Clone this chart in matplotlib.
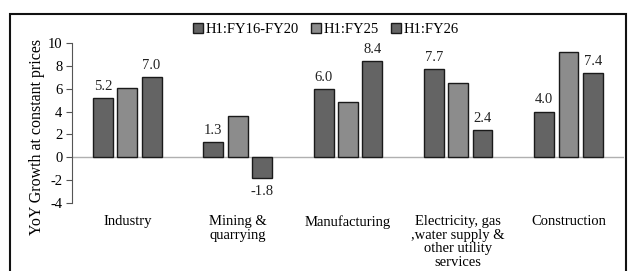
import matplotlib
matplotlib.use("Agg")
import matplotlib.pyplot as plt
import numpy as np
from matplotlib.patches import Rectangle

categories = ["Industry", "Mining &\nquarrying", "Manufacturing",
              "Electricity, gas\n,water supply &\nother utility\nservices", "Construction"]
series_names = ["H1:FY16-FY20", "H1:FY25", "H1:FY26"]
fy16_20 = [5.2, 1.3, 6.0, 7.7, 4.0]
fy25 = [6.1, 3.6, 4.8, 6.5, 9.2]
fy26 = [7.0, -1.8, 8.4, 2.4, 7.4]
yticks = [-4, -2, 0, 2, 4, 6, 8, 10]

colors = ["#646464", "#8c8c8c", "#646464"]
serif = ["Liberation Serif", "DejaVu Serif"]
fs = 10.5

fig = plt.figure(figsize=(6.28, 2.71), dpi=100)
ax = fig.add_axes([0.115, 0.251, 0.878, 0.590])

x = np.arange(len(categories))
w = 0.18
offs = [-0.22, 0.0, 0.22]
data = [fy16_20, fy25, fy26]
for i, (vals, name) in enumerate(zip(data, series_names)):
    ax.bar(x + offs[i], vals, w, color=colors[i], edgecolor="#1a1a1a",
           linewidth=1.0, label=name, zorder=3)
    if i in (0, 2):
        for xi, v in zip(x + offs[i], vals):
            if v >= 0:
                ax.text(xi, v + 0.45, f"{v:.1f}", ha="center", va="bottom",
                        fontsize=fs, family=serif, color="#222222")
            else:
                ax.text(xi, v - 0.6, f"{v:.1f}", ha="center", va="top",
                        fontsize=fs, family=serif, color="#222222")

ax.axhline(0, color="#b0b0b0", linewidth=1.0, zorder=2)
ax.set_xlim(-0.5, len(categories) - 0.5)
ax.set_ylim(-4, 10)
ax.set_yticks(yticks)
ax.set_yticklabels([str(t) for t in yticks], family=serif, fontsize=fs)
ax.set_xticks(x)
ax.set_xticklabels(categories, family=serif, fontsize=fs, va="top", linespacing=1.05)
ax.tick_params(axis="x", length=0, pad=9)
ax.tick_params(axis="y", direction="out", length=4, color="#555555", pad=3)
for s in ["top", "right", "bottom"]:
    ax.spines[s].set_visible(False)
ax.spines["left"].set_color("#555555")
ax.set_ylabel("YoY Growth at constant prices", family=serif, fontsize=11.5)
ax.yaxis.set_label_coords(-0.05, 0.41)

ax.legend(loc="lower center", bbox_to_anchor=(0.46, 1.0), ncol=3, frameon=False,
          prop={"family": serif, "size": fs}, handlelength=0.7, handleheight=0.7,
          handletextpad=0.2, columnspacing=0.8, borderaxespad=0.1)

fig.patches.append(Rectangle((10 / 628, -0.1), 616 / 628, 1 - 14 / 271 + 0.1,
                             transform=fig.transFigure, fill=False,
                             edgecolor="#111111", linewidth=1.5))

fig.savefig("out.png", dpi=100)
